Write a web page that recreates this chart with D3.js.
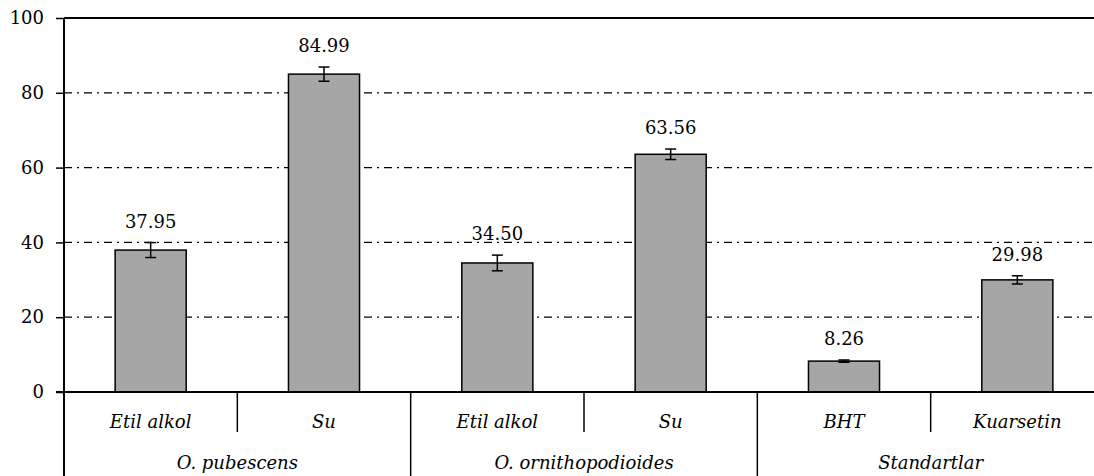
<!DOCTYPE html>
<html lang="tr">
<head>
<meta charset="UTF-8">
<title>Bar chart</title>
<style>
  body { margin: 0; background: #fff; }
  svg { display: block; font-family: "DejaVu Serif", serif; }
  .grid line { stroke: #000; stroke-width: 1.2px; stroke-dasharray: 8,5,2,5; }
  .bar { fill: #a6a6a6; stroke: #000; stroke-width: 1.5px; }
  .err { stroke: #000; stroke-width: 1.5px; }
</style>
</head>
<body>
<svg width="1094" height="476"></svg>
<script src="https://d3js.org/d3.v7.min.js"></script>
<script>
// data
var groups = ["O. pubescens", "O. ornithopodioides", "Standartlar"];
var solvents = ["Etil alkol", "Su", "Etil alkol", "Su", "BHT", "Kuarsetin"];
var groupIndex = [0, 0, 1, 1, 2, 2];
var values = [37.95, 84.99, 34.50, 63.56, 8.26, 29.98];
var errors = [2.0, 1.9, 2.1, 1.4, 0.3, 1.1];
var yTicks = [0, 20, 40, 60, 80, 100];

var svg = d3.select("svg"),
    plotLeft = 64, plotTop = 18, plotBottom = 392, plotRight = 1104;

var x = d3.scaleBand()
  .domain(d3.range(values.length))
  .range([plotLeft, plotRight])
  .paddingInner(0.59)
  .paddingOuter(0.295);
var step = x.step();
var y = d3.scaleLinear().domain([0, 100]).range([plotBottom, plotTop]);

// gridlines (dash-dot), top line solid
svg.append("g").attr("class", "grid")
  .selectAll("line")
  .data(yTicks.filter(function(t) { return t > 0 && t < 100; }))
  .enter().append("line")
    .attr("x1", plotLeft).attr("x2", 1094)
    .attr("y1", function(d) { return y(d); })
    .attr("y2", function(d) { return y(d); });

svg.append("line")
  .attr("x1", plotLeft).attr("x2", 1094)
  .attr("y1", y(100)).attr("y2", y(100))
  .attr("stroke", "#000").attr("stroke-width", 2);

// y axis
var yAxis = svg.append("g")
  .attr("transform", "translate(" + plotLeft + ",0)")
  .call(d3.axisLeft(y).tickValues(yTicks).tickSize(8).tickPadding(12).tickFormat(d3.format("d")));
yAxis.select(".domain").remove();
yAxis.selectAll(".tick line").attr("stroke", "#000").attr("stroke-width", 1.5);
yAxis.selectAll("text")
  .attr("fill", "#000")
  .attr("font-family", "DejaVu Serif, serif")
  .attr("font-size", "18px");

// bars
svg.selectAll(".bar")
  .data(values)
  .enter().append("rect")
    .attr("class", "bar")
    .attr("x", function(d, i) { return x(i); })
    .attr("width", x.bandwidth())
    .attr("y", function(d) { return y(d); })
    .attr("height", function(d) { return y(0) - y(d); });

// error bars
var cap = 5.5;
var eb = svg.selectAll(".errg")
  .data(values)
  .enter().append("g").attr("class", "err");
eb.append("line")
  .attr("x1", function(d, i) { return x(i) + x.bandwidth() / 2; })
  .attr("x2", function(d, i) { return x(i) + x.bandwidth() / 2; })
  .attr("y1", function(d, i) { return y(d + errors[i]); })
  .attr("y2", function(d, i) { return y(d - errors[i]); });
eb.append("line")
  .attr("x1", function(d, i) { return x(i) + x.bandwidth() / 2 - cap; })
  .attr("x2", function(d, i) { return x(i) + x.bandwidth() / 2 + cap; })
  .attr("y1", function(d, i) { return y(d + errors[i]); })
  .attr("y2", function(d, i) { return y(d + errors[i]); });
eb.append("line")
  .attr("x1", function(d, i) { return x(i) + x.bandwidth() / 2 - cap; })
  .attr("x2", function(d, i) { return x(i) + x.bandwidth() / 2 + cap; })
  .attr("y1", function(d, i) { return y(d - errors[i]); })
  .attr("y2", function(d, i) { return y(d - errors[i]); });

// value labels
svg.selectAll(".vlabel")
  .data(values)
  .enter().append("text")
    .attr("class", "vlabel")
    .attr("x", function(d, i) { return x(i) + x.bandwidth() / 2; })
    .attr("y", function(d, i) { return y(d + errors[i]) - 15; })
    .attr("text-anchor", "middle")
    .attr("font-size", "18px")
    .attr("fill", "#000")
    .text(function(d) { return d3.format(".2f")(d); });

// axes lines
svg.append("line")
  .attr("x1", plotLeft).attr("x2", plotLeft)
  .attr("y1", plotTop).attr("y2", 476)
  .attr("stroke", "#000").attr("stroke-width", 2);
svg.append("line")
  .attr("x1", plotLeft - 8).attr("x2", 1094)
  .attr("y1", plotBottom).attr("y2", plotBottom)
  .attr("stroke", "#000").attr("stroke-width", 2);

// category dividers
var row1 = plotBottom + 40;
svg.selectAll(".div")
  .data(d3.range(1, values.length))
  .enter().append("line")
    .attr("x1", function(i) { return plotLeft + i * step; })
    .attr("x2", function(i) { return plotLeft + i * step; })
    .attr("y1", plotBottom)
    .attr("y2", function(i) { return groupIndex[i] !== groupIndex[i - 1] ? 476 : row1; })
    .attr("stroke", "#000").attr("stroke-width", 1.5);

// category labels
svg.selectAll(".clabel")
  .data(solvents)
  .enter().append("text")
    .attr("x", function(d, i) { return x(i) + x.bandwidth() / 2; })
    .attr("y", plotBottom + 36)
    .attr("text-anchor", "middle")
    .attr("font-size", "18px")
    .attr("font-style", "italic")
    .attr("fill", "#000")
    .text(function(d) { return d; });

svg.selectAll(".glabel")
  .data(groups)
  .enter().append("text")
    .attr("x", function(d, g) { return plotLeft + (g * 2 + 1) * step; })
    .attr("y", plotBottom + 77)
    .attr("text-anchor", "middle")
    .attr("font-size", "18px")
    .attr("font-style", "italic")
    .attr("fill", "#000")
    .text(function(d) { return d; });
</script>
</body>
</html>
